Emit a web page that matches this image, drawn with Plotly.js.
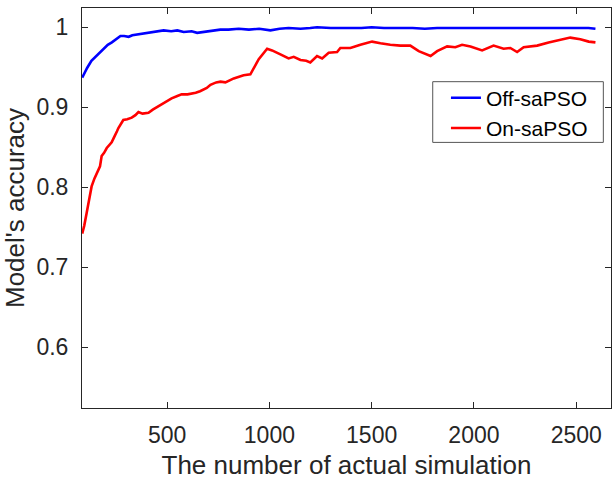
<!DOCTYPE html>
<html>
<head>
<meta charset="utf-8">
<script src="https://cdn.plot.ly/plotly-3.0.1.min.js"></script>
<style>html,body{margin:0;padding:0;background:#fff;}#chart{width:613px;height:480px;}</style>
</head>
<body>
<div id="chart"></div>
<script>
const offX = [85,100,109,130,150,170,190,210,230,250,272,290,312,330,353,400,450,483,520,550,581,620,647,700,760,800,850,900,950,1005,1050,1094,1152,1200,1233,1300,1380,1450,1500,1560,1640,1700,1760,1820,1900,1980,2050,2100,2200,2300,2400,2500,2560,2594];
const offY = [0.937,0.945,0.949,0.958,0.963,0.969,0.973,0.978,0.981,0.985,0.989,0.989,0.988,0.990,0.991,0.993,0.995,0.996,0.995,0.996,0.994,0.995,0.993,0.995,0.997,0.997,0.998,0.997,0.998,0.996,0.998,0.999,0.998,0.999,1.000,0.999,0.999,0.999,1.000,0.999,0.999,0.999,0.998,0.999,0.999,0.999,0.999,0.999,0.999,0.999,0.999,0.999,0.999,0.998];

const onX = [85,95,107,120,131,145,156,172,180,192,205,215,229,240,246,255,262,275,286,305,327,345,360,380,409,430,457,490,522,550,571,600,620,640,661,694,712,740,761,785,826,850,874,907,948,989,1013,1054,1094,1119,1152,1180,1200,1233,1258,1290,1331,1347,1396,1445,1502,1543,1591,1640,1689,1730,1760,1788,1820,1869,1909,1942,1983,2040,2096,2145,2178,2211,2243,2309,2365,2423,2471,2520,2561,2594];
const onY = [0.742,0.752,0.768,0.788,0.801,0.811,0.818,0.826,0.839,0.843,0.849,0.852,0.856,0.862,0.866,0.870,0.874,0.879,0.884,0.885,0.887,0.890,0.894,0.892,0.893,0.897,0.901,0.906,0.911,0.914,0.916,0.916,0.917,0.918,0.920,0.924,0.928,0.931,0.932,0.931,0.936,0.938,0.940,0.941,0.960,0.973,0.971,0.966,0.961,0.963,0.959,0.958,0.956,0.964,0.961,0.968,0.969,0.974,0.974,0.978,0.982,0.980,0.978,0.977,0.977,0.970,0.967,0.964,0.970,0.976,0.975,0.978,0.976,0.971,0.977,0.973,0.974,0.969,0.975,0.977,0.981,0.984,0.987,0.985,0.982,0.981];

const xTicks = [500,1000,1500,2000,2500];
const yTicks = [0.6,0.7,0.8,0.9,1];
const yTickText = ['0.6','0.7','0.8','0.9','1'];

const axisColor = '#262626';
const fontFam = '"Liberation Sans", Arial, Helvetica, sans-serif';

const traces = [
  {x: offX, y: offY, type: 'scatter', mode: 'lines', name: 'Off-saPSO', line: {color: '#0000ff', width: 2.6}},
  {x: onX, y: onY, type: 'scatter', mode: 'lines', name: 'On-saPSO', line: {color: '#ff0000', width: 2.6}}
];

const layout = {
  width: 613, height: 480,
  margin: {l: 82, r: 2, t: 8, b: 72},
  paper_bgcolor: '#ffffff', plot_bgcolor: '#ffffff',
  font: {family: fontFam, color: axisColor},
  showlegend: true,
  xaxis: {
    range: [84, 2670], tickvals: xTicks, ticktext: xTicks.map(String),
    showgrid: false, zeroline: false, showline: true, mirror: 'ticks',
    linecolor: axisColor, linewidth: 1, ticks: 'inside', ticklen: 6, tickcolor: axisColor,
    tickfont: {size: 23, color: axisColor, family: fontFam},
    ticklabelstandoff: 6,
    title: {text: 'The number of actual simulation', font: {size: 26, color: axisColor, family: fontFam}, standoff: 12}
  },
  yaxis: {
    range: [0.524, 1.024], tickvals: yTicks, ticktext: yTickText,
    showgrid: false, zeroline: false, showline: true, mirror: 'ticks',
    linecolor: axisColor, linewidth: 1, ticks: 'inside', ticklen: 6, tickcolor: axisColor,
    tickfont: {size: 23, color: axisColor, family: fontFam},
    ticklabelstandoff: 8,
    title: {text: "Model's accuracy", font: {size: 26, color: axisColor, family: fontFam}, standoff: 10}
  },
  legend: {
    x: 0.688, y: 0.826, xanchor: 'left', yanchor: 'top',
    bgcolor: 'rgba(0,0,0,0)', borderwidth: 0,
    font: {size: 21, color: '#000000', family: fontFam},
    itemwidth: 30, tracegroupgap: 0
  },
  shapes: [
    {type: 'rect', xref: 'paper', yref: 'paper', x0: 0.6630, x1: 0.9855, y0: 0.6640, y1: 0.8158,
     line: {color: '#555555', width: 1}, fillcolor: '#ffffff', layer: 'below'}
  ]
};

Plotly.newPlot('chart', traces, layout, {displayModeBar: false, staticPlot: true});
</script>
</body>
</html>
